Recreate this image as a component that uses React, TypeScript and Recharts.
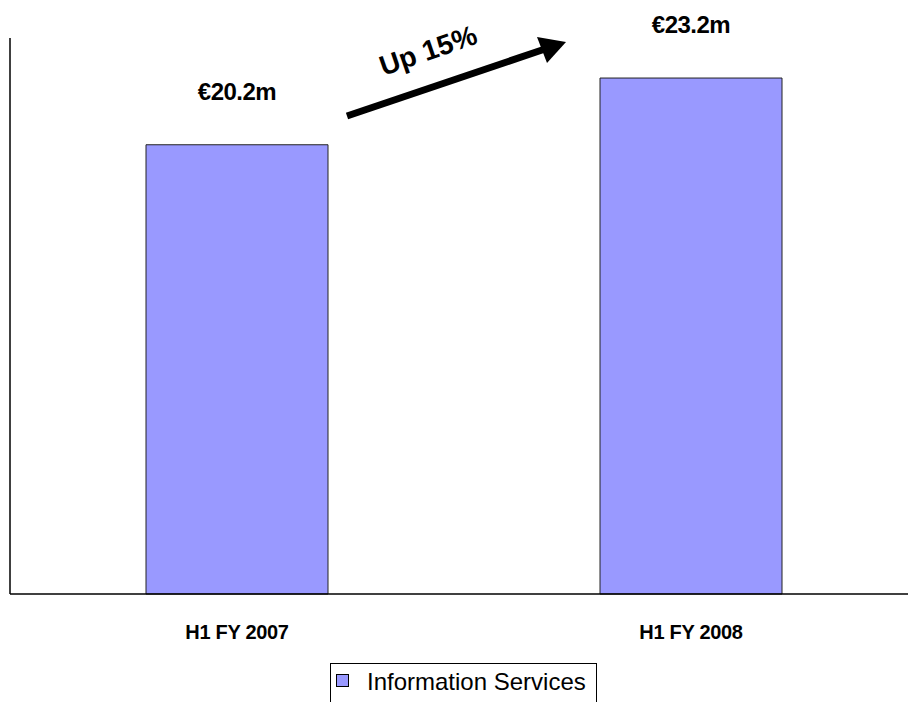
import React from "react";
import { BarChart, Bar, XAxis, YAxis, LabelList } from "recharts";

const categories = ["H1 FY 2007", "H1 FY 2008"];
const revenue = [20.2, 23.2];
const valueLabels = ["€20.2m", "€23.2m"];
const seriesName = "Information Services";
const growthLabel = "Up 15%";

const data = categories.map((name, i) => ({
  name,
  value: revenue[i],
  label: valueLabels[i],
}));

const FONT = "'Liberation Sans', Arial, sans-serif";
const BAR_FILL = "#9999FF";

const renderValueLabel = (props: any) => {
  const { x, y, width, index } = props;
  return (
    <text
      x={x + width / 2}
      y={y - 45}
      textAnchor="middle"
      fontFamily={FONT}
      fontWeight="bold"
      fontSize={24}
      letterSpacing={-0.5}
      fill="#000"
    >
      {valueLabels[index]}
    </text>
  );
};

const renderTick = (props: any) => {
  const { x, y, payload } = props;
  return (
    <text
      x={x}
      y={y + 37}
      textAnchor="middle"
      fontFamily={FONT}
      fontWeight="bold"
      fontSize={20}
      letterSpacing={-0.3}
      fill="#000"
    >
      {payload.value}
    </text>
  );
};

export default function App() {
  return (
    <div style={{ position: "absolute", left: 0, top: 0, width: 908, height: 702, overflow: "hidden", background: "#fff" }}>
      <BarChart
        width={918}
        height={702}
        data={data}
        margin={{ top: 38, right: 0, left: 9, bottom: 0 }}
        barSize={182}
      >
        <YAxis
          domain={[0, 25]}
          width={1}
          tick={false}
          tickLine={false}
          axisLine={{ stroke: "#000", strokeWidth: 1.5 }}
        />
        <XAxis
          dataKey="name"
          height={108}
          tickLine={false}
          tick={renderTick}
          axisLine={{ stroke: "#000", strokeWidth: 1.5 }}
        />
        <Bar
          dataKey="value"
          fill={BAR_FILL}
          stroke="#222"
          strokeWidth={1}
          isAnimationActive={false}
        >
          <LabelList dataKey="label" content={renderValueLabel} />
        </Bar>
      </BarChart>

      <svg
        width={908}
        height={702}
        style={{ position: "absolute", left: 0, top: 0, pointerEvents: "none" }}
      >
        <line x1={347} y1={116} x2={545} y2={49} stroke="#000" strokeWidth={7} />
        <polygon points="566,42 537,37 547,63" fill="#000" />
        <text
          x={428}
          y={60}
          textAnchor="middle"
          fontFamily={FONT}
          fontWeight="bold"
          fontSize={28}
          fill="#000"
          transform="rotate(-19 428 50)"
        >
          {growthLabel}
        </text>
      </svg>

      <div
        style={{
          position: "absolute",
          left: 330,
          top: 663,
          width: 267,
          height: 50,
          border: "1px solid #000",
          boxSizing: "border-box",
          fontFamily: FONT,
          fontSize: 24,
          color: "#000",
        }}
      >
        <span
          style={{
            position: "absolute",
            left: 5,
            top: 10,
            width: 11,
            height: 11,
            background: BAR_FILL,
            border: "1px solid #000",
          }}
        />
        <span style={{ position: "absolute", left: 36, top: 4, whiteSpace: "nowrap" }}>
          {seriesName}
        </span>
      </div>
    </div>
  );
}
